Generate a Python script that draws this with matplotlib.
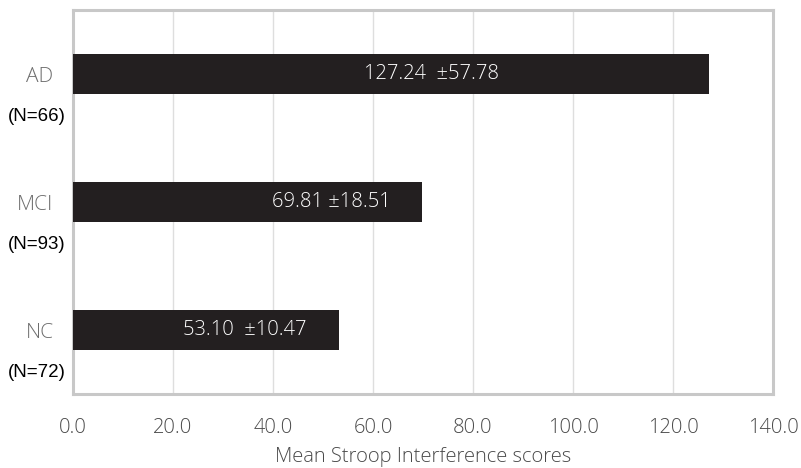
import matplotlib
matplotlib.use("Agg")
import matplotlib.pyplot as plt
from matplotlib.transforms import blended_transform_factory

# dados
groups = ["AD", "MCI", "NC"]
n_labels = ["(N=66)", "(N=93)", "(N=72)"]
means = [127.24, 69.81, 53.10]
sds = [57.78, 18.51, 10.47]
label_x = [71.6, 51.6, 34.4]   # onde o texto fica dentro da barra
sep = ["  ", " ", "  "]        # espaço antes do ± (como no original)
xticks = [0, 20, 40, 60, 80, 100, 120, 140]

FONTE = "Open Sans"
PESO = "light"

fig = plt.figure(figsize=(8.01, 4.68), dpi=100)
ax = fig.add_axes([73 / 801, 1 - 394 / 468, 700 / 801, 384 / 468])

ypos = list(range(len(groups)))
ax.barh(ypos, means, height=0.32, color="#231f20", zorder=3)

for y, m, s, lx, sp_ in zip(ypos, means, sds, label_x, sep):
    ax.text(lx, y, f"{m:.2f}{sp_}\u00b1{s:.2f}", color="white", ha="center", va="center",
            fontsize=14.5, family=FONTE, fontweight=PESO, zorder=4)

ax.set_xlim(0, 140)
ax.set_ylim(2.5, -0.5)
ax.set_xticks(xticks)
ax.set_xticklabels([f"{t:.1f}" for t in xticks], family=FONTE, fontweight=PESO,
                   fontsize=14.5, color="#4a4a4a")
ax.set_yticks(ypos)
ax.set_yticklabels(groups, family=FONTE, fontweight=PESO, fontsize=15, color="#6e6e6e")
ax.tick_params(axis="both", length=0)
ax.tick_params(axis="x", pad=17)
ax.tick_params(axis="y", pad=14)

ax.grid(axis="x", color="#dedede", linewidth=1.0, zorder=0)
for sp in ax.spines.values():
    sp.set_color("#c8c8c8")
    sp.set_linewidth(2.2)

# rótulos de N abaixo de cada grupo
trans = blended_transform_factory(fig.transFigure, ax.transData)
for y, n in zip(ypos, n_labels):
    ax.text(37 / 801, y + 0.335, n, transform=trans, ha="center", va="center",
            fontsize=13.5, family="Liberation Sans", color="black")

ax.set_xlabel("Mean Stroop Interference scores", family=FONTE, fontweight=PESO,
              fontsize=14.5, color="#4a4a4a", labelpad=7)

fig.savefig("out.png", dpi=100)
